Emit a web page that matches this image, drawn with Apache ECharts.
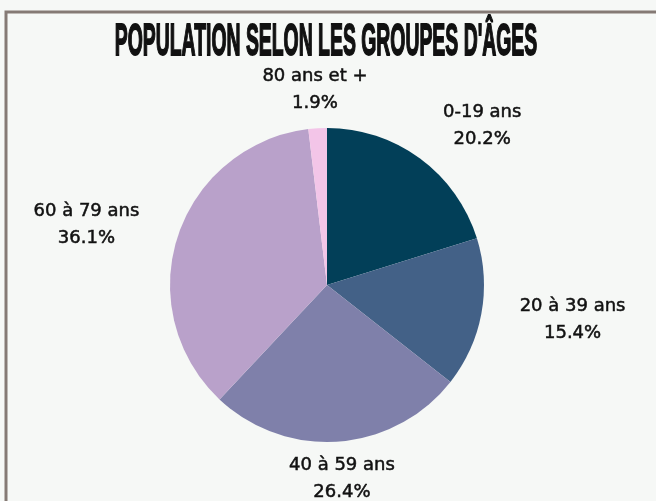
<!DOCTYPE html>
<html>
<head>
<meta charset="utf-8">
<script src="https://cdn.jsdelivr.net/npm/echarts@6/dist/echarts.min.js"></script>
<style>html,body{margin:0;padding:0;background:#f6f8f6;}#c{width:656px;height:501px;}</style>
</head>
<body>
<div id="c"></div>
<script>
const title = "POPULATION SELON LES GROUPES D'ÂGES";
const categories = ['0-19 ans', '20 à 39 ans', '40 à 59 ans', '60 à 79 ans', '80 ans et +'];
const values = [20.2, 15.4, 26.4, 36.1, 1.9];
const colors = ['#023f58', '#436187', '#7f80aa', '#b9a1ca', '#f3c5e8'];

// label placement (style): distance of label centre from pie centre, and angular shift (deg)
const labelDist = [222, 248, 194, 248, 196];
const labelShift = [8.0, -2.4, -0.1, -4.1, -0.1];

const CX = 327, CY = 285, R = 157;
const total = values.reduce((a, b) => a + b, 0);
const midAngles = [];
let acc = 0;
values.forEach(v => { midAngles.push((acc + v / 2) / total * 360); acc += v; });

const chart = echarts.init(document.getElementById('c'), null, {renderer: 'canvas'});
chart.setOption({
  backgroundColor: '#f6f8f6',
  animation: false,
  graphic: [
    {type: 'rect', shape: {x: 6, y: 12, width: 700, height: 560},
     style: {fill: 'transparent', stroke: '#857a75', lineWidth: 3}},
    {type: 'text', x: 326, y: 43, scaleX: 0.485, scaleY: 1.1,
     style: {text: title, font: 'bold 40px "Liberation Sans"', fill: '#111',
             stroke: '#111', lineWidth: 1.6, align: 'center', verticalAlign: 'middle'}}
  ],
  series: [{
    type: 'pie',
    center: [CX, CY],
    radius: R,
    startAngle: 90,
    clockwise: true,
    avoidLabelOverlap: false,
    data: categories.map((c, i) => ({name: c, value: values[i], itemStyle: {color: colors[i]}})),
    label: {
      show: true,
      position: 'outside',
      formatter: p => p.name + '\n' + p.value.toFixed(1) + '%',
      fontFamily: 'DejaVu Sans',
      fontSize: 18,
      lineHeight: 27,
      color: '#111',
      textBorderColor: '#111',
      textBorderWidth: 0.5,
      align: 'center'
    },
    labelLine: {show: false},
    labelLayout: function (p) {
      const i = p.dataIndex;
      const a = (midAngles[i] + labelShift[i]) * Math.PI / 180;
      return {
        x: CX + Math.sin(a) * labelDist[i],
        y: CY - Math.cos(a) * labelDist[i],
        align: 'center',
        verticalAlign: 'middle'
      };
    },
    emphasis: {disabled: true}
  }]
});
</script>
</body>
</html>
